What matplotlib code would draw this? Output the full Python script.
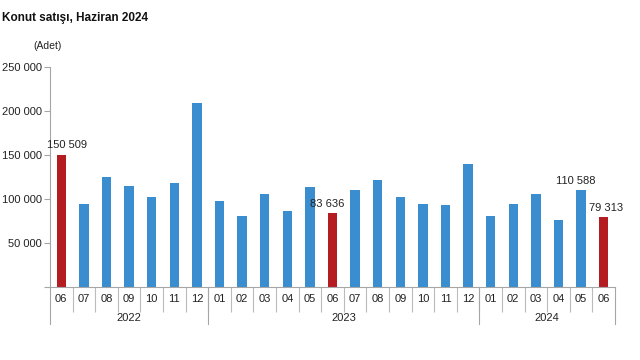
import matplotlib
matplotlib.use("Agg")
import matplotlib.pyplot as plt
from matplotlib.transforms import blended_transform_factory

plt.rcParams['font.family'] = ['Liberation Sans', 'DejaVu Sans']

title = "Konut satışı, Haziran 2024"
unit = "(Adet)"
months = ["06", "07", "08", "09", "10", "11", "12",
          "01", "02", "03", "04", "05", "06", "07", "08", "09", "10", "11", "12",
          "01", "02", "03", "04", "05", "06"]
values = [150509, 94452, 124470, 115072, 102438, 117745, 208852,
          98058, 80141, 105476, 86234, 113276, 83636, 110176, 121612, 102536, 94375, 93078, 139317,
          80727, 94042, 105394, 75569, 110588, 79313]
years = ["2022", "2023", "2024"]
year_counts = [7, 12, 6]
highlight = [0, 12, 24]
labeled = {0: "150 509", 12: "83 636", 23: "110 588", 24: "79 313"}
label_dx = {0: 6, 12: -5, 23: -5, 24: 2}
yticks = [0, 50000, 100000, 150000, 200000, 250000]
ytick_labels = ["", "50 000", "100 000", "150 000", "200 000", "250 000"]

blue = "#3a8ecf"
red = "#b51c22"
gray = "#a6a6a6"

fig = plt.figure(figsize=(6.4, 3.6), dpi=100)
ax = fig.add_axes([50/640, 1-287/360, 565/640, 220/360])

x = list(range(len(values)))
colors = [red if i in highlight else blue for i in x]
ax.bar(x, values, width=0.42, color=colors, zorder=2)

ax.set_xlim(-0.5, len(values)-0.5)
ax.set_ylim(0, 250000)
ax.set_yticks(yticks)
ax.set_yticklabels(ytick_labels, fontsize=8, color="#222222")
ax.tick_params(axis='y', length=4, color=gray, width=0.8, pad=2)

ax.set_xticks(x)
ax.set_xticklabels(months, fontsize=8, color="#222222")
ax.tick_params(axis='x', which='major', length=0, pad=5)
ax.set_xticks([i - 0.5 for i in range(1, len(values))], minor=True)
ax.tick_params(axis='x', which='minor', length=18, color="#bbbbbb", width=0.8)

for s in ["top", "right"]:
    ax.spines[s].set_visible(False)
for s in ["left", "bottom"]:
    ax.spines[s].set_color(gray)
    ax.spines[s].set_linewidth(0.8)

for i, lab in labeled.items():
    ax.annotate(lab, (i, values[i]), xytext=(label_dx[i] * 0.72, 3), textcoords="offset points",
                ha="center", va="bottom", fontsize=8, color="#222222")

trans = blended_transform_factory(ax.transData, ax.transAxes)
axes_h = 220
start = 0
bounds = [-0.5]
for yr, c in zip(years, year_counts):
    mid = start + (c - 1) / 2
    ax.text(mid, -31/axes_h, yr, transform=trans, ha="center", va="center",
            fontsize=8, color="#222222")
    start += c
    bounds.append(start - 0.5)
for b in bounds:
    ax.plot([b, b], [0, -37/axes_h], transform=trans, color=gray, lw=0.8, clip_on=False)

fig.text(2/640, 1-18/360, title, fontsize=8.5, fontweight="bold", va="center", ha="left", color="#111111")
fig.text(33/640, 1-46/360, unit, fontsize=7.5, va="center", ha="left", color="#222222")

fig.savefig("out.png", dpi=100)
